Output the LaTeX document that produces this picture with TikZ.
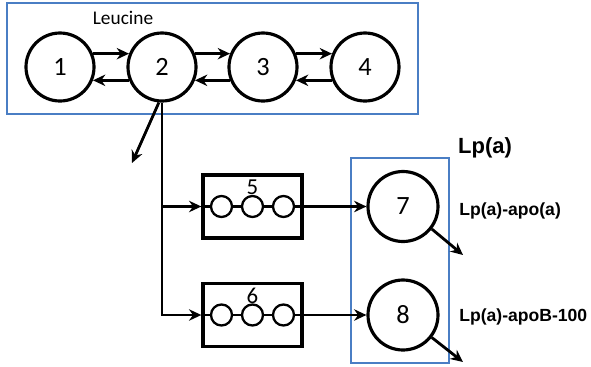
\documentclass[tikz,border=0pt]{standalone}
\usepackage{fontspec}
\setmainfont{Carlito}
\newfontfamily\labelfont{Liberation Sans}
\definecolor{poolblue}{RGB}{74, 126, 196}
\usetikzlibrary{arrows.meta, positioning, calc}
\tikzset{
    pool/.style={circle, draw=black, line width=1.8pt, minimum size=1.36cm, inner sep=0pt, font=\fontsize{15}{15}\selectfont},
    bead/.style={circle, draw=black, line width=1.3pt, fill=white, minimum size=0.42cm, inner sep=0pt},
    compbox/.style={rectangle, draw=black, line width=1.9pt, minimum width=1.98cm, minimum height=1.26cm},
    region/.style={rectangle, draw=poolblue, line width=0.9pt},
    flow/.style={line width=1.6pt, -{Stealth[length=7pt, width=6.5pt]}},
    tag/.style={font=\labelfont\bfseries\fontsize{10}{10}\selectfont, anchor=west, inner sep=0pt}
}

\begin{document}
\begin{tikzpicture}
    \useasboundingbox (0,0) rectangle (11.82,-7.32);

    % Leucine compartments
    \draw[region] (0.14,-0.06) rectangle (8.36,-2.28);
    \node[font=\fontsize{11}{11}\selectfont] (leu) at (2.46,-0.36) {Leucine};
    \node[pool] (c1) at (1.20,-1.34) {1};
    \node[pool] (c2) at (3.24,-1.34) {2};
    \node[pool] (c3) at (5.26,-1.34) {3};
    \node[pool] (c4) at (7.30,-1.34) {4};

    % Exchange between neighbouring pools
    \foreach \a/\b in {c1/c2, c2/c3, c3/c4} {
        \draw[flow] (\a.22) -- (\b.158);
        \draw[flow] (\b.202) -- (\a.-22);
    }

    % Delay chains
    \foreach \n/\y in {5/-4.13, 6/-6.30} {
        \node[compbox] (b\n) at (5.05,\y) {};
        \draw[line width=1.3pt] (b\n.west) -- (b\n.east);
        \foreach \i/\dx in {1/-0.62, 2/0, 3/0.62}
            \node[bead] (b\n-\i) at ($(b\n.center)+(\dx,0)$) {};
        \node[font=\fontsize{13}{13}\selectfont, inner sep=0pt] (l\n) at ($(b\n.center)+(0,0.38)$) {\n};
    }

    % Lp(a) pools
    \draw[region] (7.02,-3.16) rectangle (8.98,-7.26);
    \node[pool, minimum size=1.40cm] (c7) at (8.06,-4.13) {7};
    \node[pool, minimum size=1.40cm] (c8) at (8.06,-6.30) {8};

    \node[font=\labelfont\bfseries\fontsize{12.5}{12.5}\selectfont] (lpa) at (9.70,-2.96) {Lp(a)};
    \node[tag] (apoa) at (9.18,-4.22) {Lp(a)-apo(a)};
    \node[tag] (apob) at (9.18,-6.34) {Lp(a)-apoB-100};

    % Loss and transfer
    \coordinate (out2) at (2.64,-3.26);
    \coordinate (out7) at (9.26,-5.10);
    \coordinate (out8) at (9.26,-7.24);
    \draw[flow] (c2.-95) -- (out2);
    \draw[flow] (c2.south) |- (b6.west);
    \draw[flow] (c2.south |- b5.west) -- (b5.west);
    \draw[flow] (b5.east) -- (c7.west);
    \draw[flow] (b6.east) -- (c8.west);
    \draw[flow] (c7.-38) -- (out7);
    \draw[flow] (c8.-38) -- (out8);
\end{tikzpicture}
\end{document}
